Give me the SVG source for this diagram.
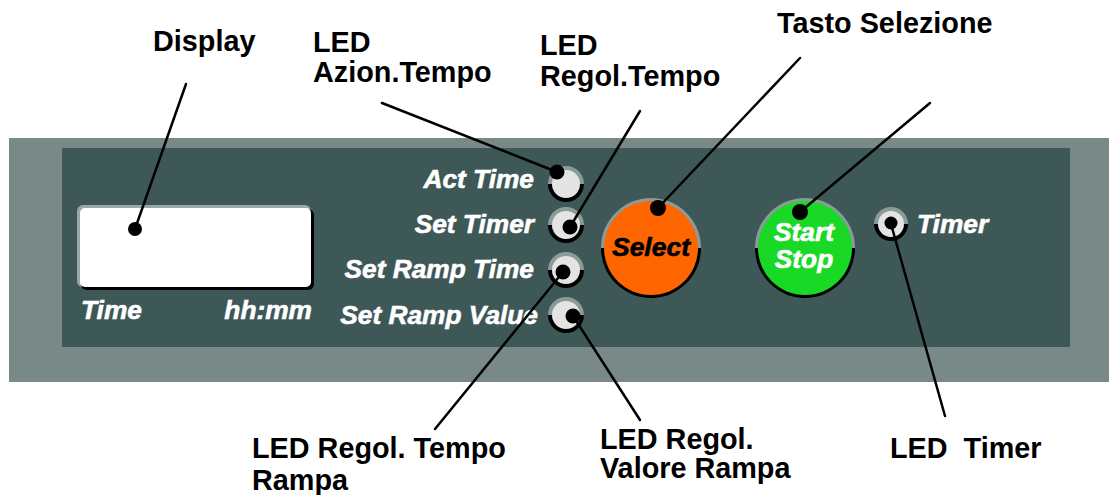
<svg xmlns="http://www.w3.org/2000/svg" width="1109" height="495" viewBox="0 0 1109 495">
<style>
.lbl{font-family:"Liberation Sans",Arial,sans-serif;font-weight:bold;font-size:28.8px;fill:#000;white-space:pre}
.pl{font-family:"Liberation Sans",Arial,sans-serif;font-weight:bold;font-style:italic;font-size:26.3px;fill:#fff;stroke:#fff;stroke-width:0.6}
.ld{stroke:#000;stroke-width:2.5;fill:none;stroke-linecap:round}
.dot{fill:#000}
.ringT{fill:#8a9b99}
.ringB{fill:#000}
.led{fill:#e4e4e4}
</style>
<rect x="0" y="0" width="1109" height="495" fill="#fff"/>
<g id="panel">
<rect x="9" y="138" width="1100" height="244" fill="#788988"/>
<rect x="62" y="148" width="1008" height="199" fill="#3e5858"/>
</g>
<g id="display">
<rect x="77" y="205" width="234" height="82" rx="6" fill="#9aa9a8"/>
<rect x="81" y="209" width="233" height="81" rx="6" fill="#000"/>
<rect x="80" y="208" width="231" height="79" rx="5" fill="#fff"/>
<text class="pl" x="81" y="319" font-size="24">Time</text>
<text class="pl" x="312" y="319" text-anchor="end" font-size="24">hh:mm</text>
</g>
<g id="led-act">
<text class="pl" x="534" y="188" text-anchor="end">Act Time</text>
<path class="ringT" d="M548,184 a18,18 0 0 1 36,0 z"/>
<path class="ringB" d="M548,184 a18,18 0 0 0 36,0 z"/>
<circle class="led" cx="566" cy="184" r="14"/>
</g>
<g id="led-settimer">
<text class="pl" x="534" y="233" text-anchor="end">Set Timer</text>
<path class="ringT" d="M548,225 a18,18 0 0 1 36,0 z"/>
<path class="ringB" d="M548,225 a18,18 0 0 0 36,0 z"/>
<circle class="led" cx="566" cy="225" r="14"/>
</g>
<g id="led-ramptime">
<text class="pl" x="534" y="278" text-anchor="end">Set Ramp Time</text>
<path class="ringT" d="M548,270 a18,18 0 0 1 36,0 z"/>
<path class="ringB" d="M548,270 a18,18 0 0 0 36,0 z"/>
<circle class="led" cx="566" cy="270" r="14"/>
</g>
<g id="led-rampvalue">
<text class="pl" x="538" y="324" text-anchor="end">Set Ramp Value</text>
<path class="ringT" d="M548,315 a18,18 0 0 1 36,0 z"/>
<path class="ringB" d="M548,315 a18,18 0 0 0 36,0 z"/>
<circle class="led" cx="566" cy="315" r="14"/>
</g>
<g id="btn-select">
<path class="ringT" d="M601,248 a50,50 0 0 1 100,0 z"/>
<path class="ringB" d="M601,248 a50,50 0 0 0 100,0 z"/>
<circle cx="651" cy="248" r="47" fill="#ff6600"/>
<text x="651" y="256" text-anchor="middle" font-family="'Liberation Sans',Arial,sans-serif" font-weight="bold" font-style="italic" font-size="26.5" fill="#000" stroke="#000" stroke-width="0.6">Select</text>
</g>
<g id="btn-startstop">
<path class="ringT" d="M755,248 a50,50 0 0 1 100,0 z"/>
<path class="ringB" d="M755,248 a50,50 0 0 0 100,0 z"/>
<circle cx="805" cy="248" r="47" fill="#19d926"/>
<text class="pl" x="804" y="241" text-anchor="middle" font-size="23.5">Start</text>
<text class="pl" x="804" y="268" text-anchor="middle" font-size="23.5">Stop</text>
</g>
<g id="led-timer">
<path class="ringT" d="M874,224 a17,17 0 0 1 34,0 z"/>
<path class="ringB" d="M874,224 a17,17 0 0 0 34,0 z"/>
<circle class="led" cx="891" cy="224" r="13"/>
<text class="pl" x="917" y="233">Timer</text>
</g>
<g id="connectors">
<line class="ld" x1="186" y1="84" x2="135" y2="229"/>
<line class="ld" x1="382" y1="103" x2="557" y2="172"/>
<line class="ld" x1="640" y1="111" x2="570" y2="227"/>
<line class="ld" x1="800" y1="58" x2="658" y2="208"/>
<line class="ld" x1="930" y1="103" x2="800" y2="212"/>
<line class="ld" x1="891" y1="224" x2="945" y2="416"/>
<line class="ld" x1="563" y1="272" x2="435" y2="429"/>
<line class="ld" x1="573" y1="316" x2="640" y2="420"/>
<circle class="dot" cx="135" cy="229" r="7"/>
<circle class="dot" cx="557" cy="172" r="7.5"/>
<circle class="dot" cx="570" cy="227" r="7.5"/>
<circle class="dot" cx="563" cy="272" r="7.5"/>
<circle class="dot" cx="573" cy="316" r="7.5"/>
<circle class="dot" cx="658" cy="208" r="8"/>
<circle class="dot" cx="800" cy="212" r="8"/>
<circle class="dot" cx="891" cy="223" r="6.5"/>
</g>
<g id="labels">
<text class="lbl" x="153" y="51">Display</text>
<text class="lbl" x="313" y="52">LED</text>
<text class="lbl" x="313" y="82">Azion.Tempo</text>
<text class="lbl" x="540" y="55">LED</text>
<text class="lbl" x="540" y="86">Regol.Tempo</text>
<text class="lbl" x="777" y="33">Tasto Selezione</text>
<text class="lbl" x="252" y="458">LED Regol. Tempo</text>
<text class="lbl" x="252" y="490">Rampa</text>
<text class="lbl" x="600" y="449">LED Regol.</text>
<text class="lbl" x="600" y="478">Valore Rampa</text>
<text class="lbl" x="890" y="458">LED  Timer</text>
</g>
</svg>
